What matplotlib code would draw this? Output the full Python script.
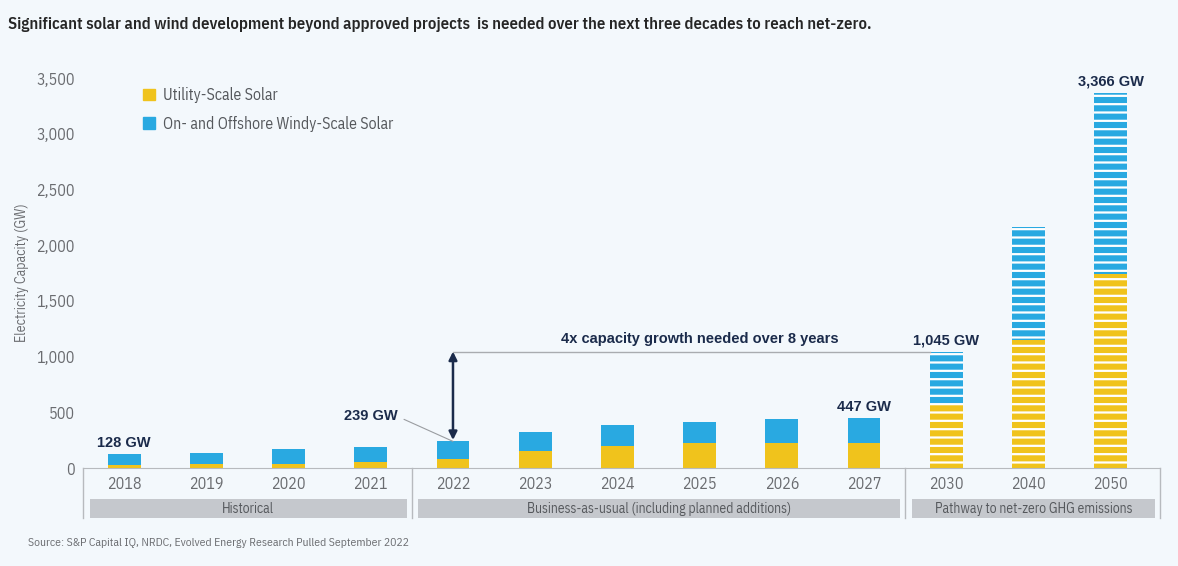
import numpy as np
import matplotlib
import matplotlib.pyplot as plt
from matplotlib.patches import Rectangle

matplotlib.rcParams['hatch.linewidth'] = 1.6

years = ["2018", "2019", "2020", "2021", "2022", "2023", "2024",
         "2025", "2026", "2027", "2030", "2040", "2050"]
solar = np.array([25, 39, 40, 57, 82, 155, 197, 225, 225, 225, 575, 1150, 1745])
total = np.array([128, 139, 170, 185, 239, 327, 385, 412, 443, 447, 1045, 2165, 3366])
wind = total - solar

groups = ["Historical", "Business-as-usual (including planned additions)",
          "Pathway to net-zero GHG emissions"]
group_sizes = [4, 6, 3]
labelled = [0, 4, 9, 10, 12]

BG = "#f3f8fc"
YELLOW = "#f0c31c"
BLUE = "#29a9e1"
NAVY = "#1b2b4b"
GRAY_TXT = "#6a6c70"
NARROW = ["IBM Plex Sans Condensed", "DejaVu Sans"]
BOLD = ["Liberation Sans", "DejaVu Sans"]

fig = plt.figure(figsize=(11.78, 5.66), dpi=100, facecolor=BG)
ax = fig.add_axes([0.0705, 0.1731, 0.9142, 0.7087])
ax.set_facecolor(BG)

x = np.arange(len(years))
b1 = ax.bar(x, solar, width=0.4, color=YELLOW, edgecolor="white", linewidth=0)
b2 = ax.bar(x, wind, bottom=solar, width=0.4, color=BLUE, edgecolor="white", linewidth=0)
for i in range(sum(group_sizes[:2]), len(years)):
    b1[i].set_hatch("--")
    b2[i].set_hatch("--")

ax.set_xlim(-0.5, 12.6)
ax.set_ylim(0, 3600)
ax.set_yticks(np.arange(0, 3501, 500))
ax.set_yticklabels([f"{v:,}" for v in range(0, 3501, 500)], family=NARROW,
                   fontsize=11.5, color=GRAY_TXT)
ax.set_xticks(x)
ax.set_xticklabels(years, family=NARROW, fontsize=11.5, color=GRAY_TXT)
ax.tick_params(axis="both", length=0)
ax.tick_params(axis="y", pad=6)
ax.tick_params(axis="x", pad=6)
for s in ["top", "right", "left"]:
    ax.spines[s].set_visible(False)
ax.spines["bottom"].set_color("#b7babe")

fig.text(22 / 1178, 1 - 273 / 566, "Electricity Capacity (GW)", rotation=90,
         ha="center", va="center", family=NARROW, fontsize=10, color=GRAY_TXT)

# group separators and grey boxes below the axis
trans = ax.get_xaxis_transform()
edges = [-0.5]
for n in group_sizes:
    edges.append(edges[-1] + n)
edges[-1] = 12.6
for e in edges:
    ax.plot([e, e], [0, -0.1247], transform=trans, color="#b7babe", lw=1, clip_on=False)
for i, g in enumerate(groups):
    lo, hi = edges[i] + 0.08, edges[i + 1] - 0.06
    ax.add_patch(Rectangle((lo, -0.1247), hi - lo, 0.0474, transform=trans,
                           color="#c5c8cd", clip_on=False, lw=0))
    ax.text((lo + hi) / 2, -0.101, g, transform=trans, ha="center", va="center",
            family=NARROW, fontsize=9.8, color="#55585c")

# value labels
for i in labelled:
    if i == 4:
        ax.annotate(f"{total[i]:,} GW", xy=(i, total[i]), xytext=(-40, 18),
                    textcoords="offset points", ha="right", va="center",
                    fontsize=10.5, fontweight="bold", color=NAVY, family=BOLD,
                    arrowprops=dict(arrowstyle="-", color="#9a9da1", lw=0.8,
                                    relpos=(1, 0.5), shrinkA=3, shrinkB=0))
    else:
        ax.annotate(f"{total[i]:,} GW", xy=(i, total[i]), xytext=(0, 3),
                    textcoords="offset points", ha="center", va="bottom",
                    fontsize=10.5, fontweight="bold", color=NAVY, family=BOLD)

# growth arrow
ax.annotate("", xy=(4, total[4]), xytext=(4, total[10]),
            arrowprops=dict(arrowstyle="<|-|>", color=NAVY, lw=1.8,
                            mutation_scale=12, shrinkA=0, shrinkB=1))
ax.plot([4, 10 - 0.2], [total[10], total[10]], color="#a9acb0", lw=1)
ax.annotate("4x capacity growth needed over 8 years", xy=((4 + 10) / 2, total[10]),
            xytext=(0, 4), textcoords="offset points", ha="center", va="bottom",
            fontsize=10.5, fontweight="bold", color=NAVY, family=BOLD)

handles = [Rectangle((0, 0), 1, 1, color=YELLOW), Rectangle((0, 0), 1, 1, color=BLUE)]
ax.legend(handles, ["Utility-Scale Solar", "On- and Offshore Windy-Scale Solar"],
          loc="upper left", bbox_to_anchor=(143 / 1178, 1 - 87 / 566),
          bbox_transform=fig.transFigure, frameon=False, borderpad=0,
          borderaxespad=0, handlelength=0.78, handleheight=0.78, handletextpad=0.5,
          labelspacing=0.8, prop={"family": NARROW, "size": 11.3}, labelcolor="#55585c")

fig.text(8 / 1178, 1 - 24 / 566,
         "Significant solar and wind development beyond approved projects  is needed over "
         "the next three decades to reach net-zero.",
         ha="left", va="center", family=NARROW, fontsize=12, fontweight="semibold",
         color="#262626")
fig.text(28 / 1178, 1 - 543 / 566,
         "Source: S&P Capital IQ, NRDC, Evolved Energy Research Pulled September 2022",
         ha="left", va="center", family=NARROW, fontsize=8.4, color=GRAY_TXT)

fig.savefig("out.png", dpi=100, facecolor=BG)
